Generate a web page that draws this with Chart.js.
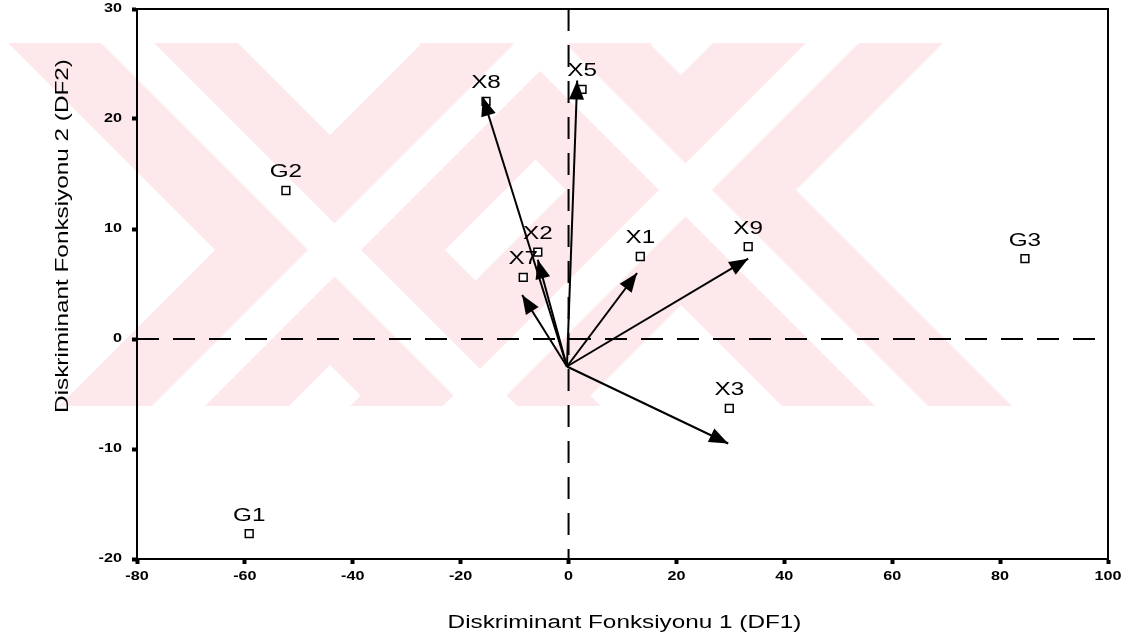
<!DOCTYPE html>
<html>
<head>
<meta charset="utf-8">
<script src="https://cdn.jsdelivr.net/npm/chart.js@4/dist/chart.umd.min.js"></script>
<style>
  html, body { margin: 0; padding: 0; background: #fff; }
  canvas { display: block; }
</style>
</head>
<body>
<canvas id="chart" width="1128" height="640"></canvas>
<script>
// group centroids and variable points
const pointNames = ['G1', 'G2', 'G3', 'X1', 'X2', 'X3', 'X5', 'X7', 'X8', 'X9'];
const pointX = [-59.2, -52.4, 84.6, 13.3, -5.7, 29.8, 2.5, -8.4, -15.3, 33.3];
const pointY = [-17.7, 13.5, 7.3, 7.5, 7.9, -6.3, 22.7, 5.6, 21.6, 8.4];

// arrows from the common origin to each variable
const arrowNames = ['X8', 'X5', 'X2', 'X7', 'X1', 'X9', 'X3'];
const arrowX = [-15.9, 1.6, -5.7, -8.6, 12.7, 33.3, 29.6];
const arrowY = [22.0, 23.5, 7.2, 4.0, 6.0, 7.3, -9.5];
const originX = -0.3;
const originY = -2.5;

const xTicks = [-80, -60, -40, -20, 0, 20, 40, 60, 80, 100];
const yTicks = [-20, -10, 0, 10, 20, 30];

const xTitle = 'Diskriminant Fonksiyonu 1 (DF1)';
const yTitle = 'Diskriminant Fonksiyonu 2 (DF2)';

const STRETCH = 1.35;
const FONT = '"Liberation Sans", Arial, sans-serif';

function drawText(ctx, text, x, y, font, align, baseline, rot) {
  ctx.save();
  ctx.translate(x, y);
  if (rot) ctx.rotate(rot);
  ctx.scale(STRETCH, 1);
  ctx.font = font;
  ctx.textAlign = align;
  ctx.textBaseline = baseline;
  ctx.fillStyle = '#000';
  ctx.fillText(text, 0, 0);
  ctx.restore();
}

// faint pink watermark behind everything
function stripe(ctx, cx, cy, a, b, dir) {
  const y0 = -200, y1 = 900;
  ctx.beginPath();
  ctx.moveTo(cx + a + dir * (y0 - cy), y0);
  ctx.lineTo(cx + b + dir * (y0 - cy), y0);
  ctx.lineTo(cx + b + dir * (y1 - cy), y1);
  ctx.lineTo(cx + a + dir * (y1 - cy), y1);
  ctx.closePath();
  ctx.fill();
}

const watermark = {
  id: 'watermark',
  beforeDraw(chart) {
    const ctx = chart.ctx;
    const centres = [[330, 250], [681, 190]];
    ctx.save();
    ctx.beginPath();
    ctx.rect(0, 43, chart.width, 363);
    ctx.clip();
    ctx.fillStyle = '#fde8ec';
    centres.forEach(([cx, cy]) => {
      stripe(ctx, cx, cy, -115, 115, 1);
      stripe(ctx, cx, cy, -115, 115, -1);
    });
    ctx.fillStyle = '#fff';
    centres.forEach(([cx, cy]) => {
      stripe(ctx, cx, cy, -22, 31, 1);
      stripe(ctx, cx, cy, -22, 31, -1);
    });
    ctx.restore();
  }
};

const decorations = {
  id: 'decorations',
  afterDatasetsDraw(chart) {
    const ctx = chart.ctx;
    const xs = chart.scales.x, ys = chart.scales.y;
    // arrowheads
    const ox = xs.getPixelForValue(originX), oy = ys.getPixelForValue(originY);
    ctx.save();
    ctx.fillStyle = '#000';
    arrowX.forEach((v, i) => {
      const tx = xs.getPixelForValue(v), ty = ys.getPixelForValue(arrowY[i]);
      const ang = Math.atan2(ty - oy, tx - ox);
      const len = 19, half = 7.5;
      const bx = tx - len * Math.cos(ang), by = ty - len * Math.sin(ang);
      ctx.beginPath();
      ctx.moveTo(tx, ty);
      ctx.lineTo(bx + half * Math.sin(ang), by - half * Math.cos(ang));
      ctx.lineTo(bx - half * Math.sin(ang), by + half * Math.cos(ang));
      ctx.closePath();
      ctx.fill();
    });
    ctx.restore();
    // point labels
    const meta = chart.getDatasetMeta(chart.data.datasets.length - 1);
    meta.data.forEach((el, i) => {
      drawText(ctx, pointNames[i], el.x, el.y - 18, '18px ' + FONT, 'center', 'middle');
    });
  },
  afterDraw(chart) {
    const ctx = chart.ctx;
    const a = chart.chartArea;
    ctx.save();
    ctx.strokeStyle = '#000';
    ctx.lineWidth = 2;
    ctx.strokeRect(a.left, a.top, a.right - a.left, a.bottom - a.top);
    ctx.restore();
    const xs = chart.scales.x, ys = chart.scales.y;
    xTicks.forEach(v => {
      drawText(ctx, String(v), xs.getPixelForValue(v), a.bottom + 18, 'bold 12px ' + FONT, 'center', 'middle');
    });
    yTicks.forEach(v => {
      drawText(ctx, String(v), a.left - 15, ys.getPixelForValue(v), 'bold 12px ' + FONT, 'right', 'middle');
    });
    drawText(ctx, xTitle, (a.left + a.right) / 2 + 2, 623, '18px ' + FONT, 'center', 'middle');
    drawText(ctx, yTitle, 63, 236, '18px ' + FONT, 'center', 'middle', -Math.PI / 2);
  }
};

const datasets = [
  {
    data: [{ x: xTicks[0], y: 0 }, { x: xTicks[xTicks.length - 1], y: 0 }],
    showLine: true, borderColor: '#000', borderWidth: 2, borderDash: [22, 14], pointRadius: 0
  },
  {
    data: [{ x: 0, y: yTicks[yTicks.length - 1] }, { x: 0, y: yTicks[0] }],
    showLine: true, borderColor: '#000', borderWidth: 2, borderDash: [22, 14], pointRadius: 0
  }
];
arrowNames.forEach((name, i) => {
  datasets.push({
    label: name,
    data: [{ x: originX, y: originY }, { x: arrowX[i], y: arrowY[i] }],
    showLine: true, borderColor: '#000', borderWidth: 2, pointRadius: 0
  });
});
datasets.push({
  data: pointX.map((x, i) => ({ x: x, y: pointY[i] })),
  showLine: false,
  pointStyle: 'rect',
  pointRadius: 5.5,
  pointBorderWidth: 1.5,
  pointBorderColor: '#000',
  pointBackgroundColor: '#fff'
});

const axisCommon = {
  type: 'linear',
  grid: { drawOnChartArea: false, drawTicks: true, tickLength: 5, tickWidth: 4, tickColor: '#000', color: '#000' },
  border: { display: true, color: '#000', width: 2 },
  ticks: { display: false }
};

new Chart(document.getElementById('chart'), {
  type: 'scatter',
  data: { datasets: datasets },
  options: {
    responsive: false,
    animation: false,
    layout: { padding: { left: 0, right: 20, top: 9, bottom: 0 } },
    plugins: { legend: { display: false }, tooltip: { enabled: false } },
    scales: {
      x: Object.assign({}, axisCommon, {
        min: xTicks[0], max: xTicks[xTicks.length - 1],
        afterBuildTicks: s => { s.ticks = xTicks.map(v => ({ value: v })); },
        afterFit: s => { s.height = 81; }
      }),
      y: Object.assign({}, axisCommon, {
        min: yTicks[0], max: yTicks[yTicks.length - 1],
        afterBuildTicks: s => { s.ticks = yTicks.map(v => ({ value: v })); },
        afterFit: s => { s.width = 137; }
      })
    }
  },
  plugins: [watermark, decorations]
});
</script>
</body>
</html>
